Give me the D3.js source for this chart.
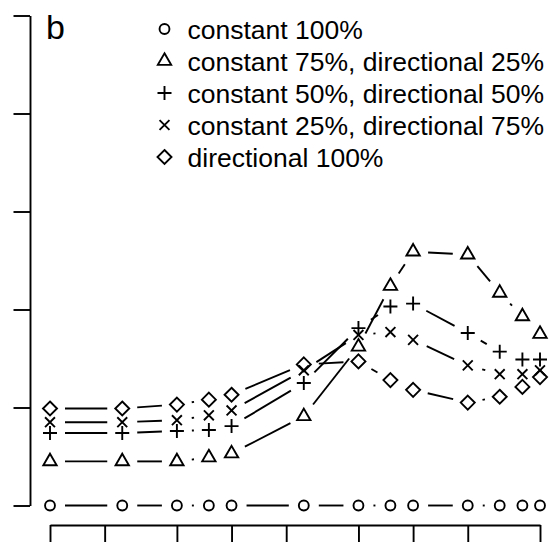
<!DOCTYPE html>
<html>
<head>
<meta charset="utf-8">
<script src="https://cdn.jsdelivr.net/npm/d3@7"></script>
<style>
  html, body { margin: 0; padding: 0; background: #fff; }
  svg { display: block; }
  text { font-family: "Liberation Sans", Arial, Helvetica, sans-serif; fill: #000; }
</style>
</head>
<body>
<svg id="chart" width="550" height="542"></svg>
<script>
// x positions of the samples (log axis)
const xValues = [1, 2.5, 5, 7.5, 10, 25, 50, 75, 100, 200, 300, 400, 500];

// one array per mixture
const constant100     = [0, 0, 0, 0, 0, 0, 0, 0, 0, 0, 0, 0, 0];
const const75dir25    = [0.45, 0.45, 0.45, 0.49, 0.53, 0.91, 1.62, 2.24, 2.59, 2.56, 2.17, 1.93, 1.75];
const const50dir50    = [0.74, 0.74, 0.76, 0.77, 0.81, 1.25, 1.81, 2.03, 2.06, 1.76, 1.57, 1.49, 1.49];
const const25dir75    = [0.85, 0.85, 0.87, 0.92, 0.97, 1.38, 1.74, 1.77, 1.69, 1.43, 1.34, 1.34, 1.38];
const directional100  = [0.99, 0.99, 1.03, 1.08, 1.13, 1.44, 1.47, 1.28, 1.18, 1.05, 1.11, 1.21, 1.31];

const seriesNames = [
  "constant 100%",
  "constant 75%, directional 25%",
  "constant 50%, directional 50%",
  "constant 25%, directional 75%",
  "directional 100%"
];
const seriesSymbols = ["circle", "triangle", "plus", "cross", "diamond"];
const seriesValues = [constant100, const75dir25, const50dir50, const25dir75, directional100];

// axis ticks
const xTicks = [1, 2, 5, 10, 20, 50, 100, 200, 500];
const yTicks = [0, 1, 2, 3, 4, 5];
const panelLabel = "b";

const svg = d3.select("#chart");

const x = d3.scaleLog().domain([1, 500]).range([50, 540]);
const y = d3.scaleLinear().domain([0, 5]).range([505.5, 15.5]);

const LW = 1.9;       // line width
const G = 13.2;       // symbol base size
const GAP = 15;       // gap left around each point on the connecting lines

// symbol outlines, centred on (0,0)
function symbolPath(kind) {
  const p = d3.path();
  const rc = 0.375 * G;
  if (kind === "circle") {
    p.moveTo(rc, 0);
    p.arc(0, 0, rc, 0, 2 * Math.PI);
  } else if (kind === "triangle") {
    const r = 1.555 * rc, hx = 1.347 * rc, hy = 0.778 * rc;
    p.moveTo(0, -r);
    p.lineTo(hx, hy);
    p.lineTo(-hx, hy);
    p.closePath();
  } else if (kind === "plus") {
    const s = Math.SQRT2 * rc;
    p.moveTo(-s, 0); p.lineTo(s, 0);
    p.moveTo(0, -s); p.lineTo(0, s);
  } else if (kind === "cross") {
    const s = rc;
    p.moveTo(-s, -s); p.lineTo(s, s);
    p.moveTo(-s, s); p.lineTo(s, -s);
  } else if (kind === "diamond") {
    const s = Math.SQRT2 * rc;
    p.moveTo(0, -s); p.lineTo(s, 0); p.lineTo(0, s); p.lineTo(-s, 0);
    p.closePath();
  }
  return p.toString();
}

// axes
const yAxis = d3.axisLeft(y).tickValues(yTicks).tickFormat("").tickSizeInner(16.5).tickSizeOuter(0);
const gy = svg.append("g").attr("transform", "translate(30,0)").call(yAxis);

const xAxis = d3.axisBottom(x).tickValues(xTicks).tickFormat("").tickSizeInner(18).tickSizeOuter(0);
const gx = svg.append("g").attr("transform", "translate(0,525)").call(xAxis);

[gy, gx].forEach(g => {
  g.selectAll("path, line").attr("stroke", "#000").attr("stroke-width", LW);
});

// connecting lines with gaps at the points
const lines = svg.append("g")
  .attr("fill", "none").attr("stroke", "#000").attr("stroke-width", LW);

seriesValues.forEach(vals => {
  const pts = xValues.map((xv, i) => [x(xv), y(vals[i])]);
  for (let i = 1; i < pts.length; i++) {
    const [x0, y0] = pts[i - 1], [x1, y1] = pts[i];
    const len = Math.hypot(x1 - x0, y1 - y0);
    const f = GAP / len;
    if (f < 0.5) {
      lines.append("line")
        .attr("x1", x0 + f * (x1 - x0)).attr("y1", y0 + f * (y1 - y0))
        .attr("x2", x1 - f * (x1 - x0)).attr("y2", y1 - f * (y1 - y0));
    }
  }
});

// point symbols
seriesValues.forEach((vals, s) => {
  svg.append("g")
    .selectAll("path")
    .data(xValues.map((xv, i) => [xv, vals[i]]))
    .join("path")
    .attr("d", symbolPath(seriesSymbols[s]))
    .attr("transform", d => `translate(${x(d[0])},${y(d[1])})`)
    .attr("fill", "none").attr("stroke", "#000").attr("stroke-width", LW);
});

// panel label
svg.append("text")
  .attr("x", 46).attr("y", 39)
  .attr("font-size", 34)
  .text(panelLabel);

// legend
const legend = svg.append("g");
const rowY = d3.scalePoint().domain(d3.range(seriesNames.length)).range([29, 157]);
seriesNames.forEach((name, i) => {
  legend.append("path")
    .attr("d", symbolPath(seriesSymbols[i]))
    .attr("transform", `translate(164.5,${rowY(i)})`)
    .attr("fill", "none").attr("stroke", "#000").attr("stroke-width", LW);
  legend.append("text")
    .attr("x", 187.5).attr("y", rowY(i) + 9.5)
    .attr("font-size", 26.5)
    .text(name);
});
</script>
</body>
</html>
